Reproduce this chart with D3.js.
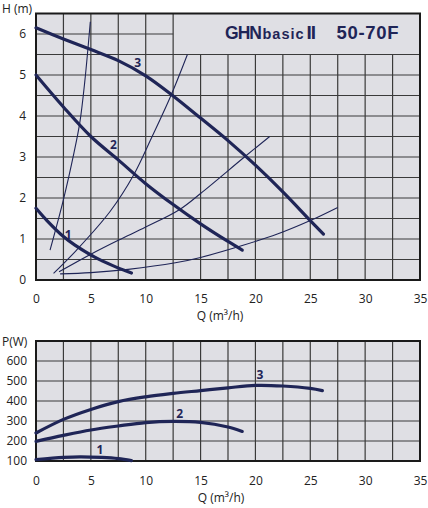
<!DOCTYPE html>
<html>
<head>
<meta charset="utf-8">
<script src="https://cdn.jsdelivr.net/npm/d3@7"></script>
<style>
  body { margin: 0; background: #fff; }
  text { font-family: "Open Sans", "DejaVu Sans", sans-serif; }
</style>
</head>
<body>
<div id="chart"></div>
<script>
// tick labels
var qTicks = [0, 5, 10, 15, 20, 25, 30, 35];
var hTicks = [0, 1, 2, 3, 4, 5, 6];
var pTicks = [100, 200, 300, 400, 500, 600];

// pump curves H(Q), speeds 1..3
var head1Q = [0, 1, 2.5, 3.55, 5.4, 7, 8.7];
var head1H = [1.75, 1.45, 1.06, 0.85, 0.55, 0.35, 0.17];
var head2Q = [0, 2.5, 5, 7.5, 10, 12.5, 15, 17.5, 18.8];
var head2H = [5.0, 4.22, 3.5, 2.93, 2.35, 1.84, 1.37, 0.94, 0.73];
var head3Q = [0, 2.5, 5, 7.5, 10, 12.5, 15, 17.5, 20, 22.5, 25, 26.2];
var head3H = [6.15, 5.88, 5.62, 5.35, 4.98, 4.49, 3.95, 3.4, 2.8, 2.15, 1.45, 1.12];

// system curves (thin)
var sysAQ = [1.28, 2.49, 3.46, 4.0, 4.45, 4.95];
var sysAH = [0.73, 1.95, 3.1, 3.85, 4.85, 6.3];
var sysBQ = [1.6, 3.7, 6.75, 8.9, 10.5, 12.3, 13.8];
var sysBH = [0.16, 0.73, 1.67, 2.56, 3.45, 4.5, 5.5];
var sysCQ = [2.1, 5, 7.5, 10, 13.1, 15, 19, 21.3];
var sysCH = [0.2, 0.63, 0.97, 1.29, 1.72, 2.11, 3.0, 3.5];
var sysDQ = [2.2, 5, 8.4, 12.7, 15, 18.8, 22, 25, 27.5];
var sysDH = [0.15, 0.18, 0.26, 0.42, 0.55, 0.84, 1.12, 1.45, 1.77];

// power curves P(Q)
var pow1Q = [0, 2.5, 4, 6, 7.5, 8.7];
var pow1P = [107, 118, 121, 118, 112, 102];
var pow2Q = [0, 2.5, 5, 7.5, 10, 12.5, 15, 17.5, 18.8];
var pow2P = [198, 228, 255, 275, 292, 298, 293, 270, 248];
var pow3Q = [0, 2.5, 5, 7.5, 10, 12.5, 15, 17.5, 20, 22.5, 25, 26.1];
var pow3P = [240, 308, 358, 397, 421, 438, 452, 466, 478, 475, 463, 452];

// curve number labels
var labelNames = ["1", "2", "3"];
var headLabelQ = [2.94, 7.05, 9.27];
var headLabelH = [1.11, 3.29, 5.29];
var powLabelQ = [5.83, 13.1, 20.4];
var powLabelP = [155, 335, 530];

var width = 428, height = 508;
var navy = "#1f2557";
var plotBg = "#dfdfe4";
var gridColor = "#3a3a3a";

var svg = d3.select("#chart")
    .append("svg")
    .attr("width", width)
    .attr("height", height);

var xScale = d3.scaleLinear().domain([0, 35]).range([36, 420]);
var yHead = d3.scaleLinear().domain([0, 6.5]).range([280, 13.5]);
var yPow = d3.scaleLinear().domain([100, 700]).range([461, 341]);

function zip(xs, ys) {
    return xs.map(function(x, i) { return [x, ys[i]]; });
}

// ---------- top chart ----------
svg.append("rect")
    .attr("x", xScale(0)).attr("y", yHead(6.5))
    .attr("width", xScale(35) - xScale(0))
    .attr("height", yHead(0) - yHead(6.5))
    .attr("fill", plotBg);

var gridTop = svg.append("g");
d3.range(2.5, 35, 2.5).forEach(function(q) {
    // the title box covers the top right corner
    var top = q > 12.5 ? 5.5 : 6.5;
    gridTop.append("line")
        .attr("x1", xScale(q)).attr("x2", xScale(q))
        .attr("y1", yHead(0)).attr("y2", yHead(top))
        .attr("stroke", gridColor).attr("stroke-width", 1.2);
});
d3.range(0.5, 6.5, 0.5).forEach(function(h) {
    var right = h > 5.5 ? 12.5 : 35;
    gridTop.append("line")
        .attr("x1", xScale(0)).attr("x2", xScale(right))
        .attr("y1", yHead(h)).attr("y2", yHead(h))
        .attr("stroke", gridColor).attr("stroke-width", 1.2);
});

svg.append("rect")
    .attr("x", xScale(0)).attr("y", yHead(6.5))
    .attr("width", xScale(35) - xScale(0))
    .attr("height", yHead(0) - yHead(6.5))
    .attr("fill", "none").attr("stroke", "#1a1a1a").attr("stroke-width", 2);

// title
var title = svg.append("text")
    .attr("y", 38.5)
    .attr("fill", navy)
    .style("font-family", "'Liberation Sans', Arial, sans-serif")
    .style("font-weight", "bold");
title.append("tspan").attr("x", 225).style("font-size", "17.5px")
    .attr("textLength", 37).text("GHN");
title.append("tspan").attr("x", 262.5).style("font-size", "14.5px")
    .attr("textLength", 41).text("basic");
title.append("tspan").attr("x", 306.5).style("font-size", "19px")
    .style("letter-spacing", "-1px").text("II");
title.append("tspan").attr("x", 336.5).style("font-size", "18.5px")
    .attr("textLength", 62).text("50-70F");

var curve = d3.curveCatmullRom.alpha(0.5);

var headLine = d3.line()
    .x(function(d) { return xScale(d[0]); })
    .y(function(d) { return yHead(d[1]); })
    .curve(curve);

[[sysAQ, sysAH], [sysBQ, sysBH], [sysCQ, sysCH], [sysDQ, sysDH]].forEach(function(s) {
    svg.append("path")
        .attr("d", headLine(zip(s[0], s[1])))
        .attr("fill", "none").attr("stroke", navy).attr("stroke-width", 1.1);
});

[[head1Q, head1H], [head2Q, head2H], [head3Q, head3H]].forEach(function(s) {
    svg.append("path")
        .attr("d", headLine(zip(s[0], s[1])))
        .attr("fill", "none").attr("stroke", navy)
        .attr("stroke-width", 3.2).attr("stroke-linecap", "round");
});

svg.selectAll(".headLabel")
    .data(labelNames)
    .enter()
    .append("text")
    .attr("class", "headLabel")
    .attr("x", function(d, i) { return xScale(headLabelQ[i]); })
    .attr("y", function(d, i) { return yHead(headLabelH[i]); })
    .attr("dy", "0.35em")
    .attr("text-anchor", "middle")
    .attr("fill", navy)
    .style("font-size", "12px").style("font-weight", "bold")
    .text(function(d) { return d; });

// axes
var xAxisTop = svg.append("g")
    .attr("transform", "translate(0," + yHead(0) + ")")
    .call(d3.axisBottom(xScale).tickValues(qTicks).tickSize(0).tickPadding(14));
var yAxisTop = svg.append("g")
    .attr("transform", "translate(" + xScale(0) + ",0)")
    .call(d3.axisLeft(yHead).tickValues(hTicks).tickSize(0).tickPadding(10)
        .tickFormat(d3.format("d")));

svg.append("text")
    .attr("x", 2).attr("y", 13)
    .attr("fill", "#222").style("font-size", "12px")
    .text("H (m)");
svg.append("text")
    .attr("x", 220).attr("y", 320)
    .attr("text-anchor", "middle")
    .attr("fill", "#222").style("font-size", "12px")
    .text("Q (m³/h)");

// ---------- bottom chart ----------
svg.append("rect")
    .attr("x", xScale(0)).attr("y", yPow(700))
    .attr("width", xScale(35) - xScale(0))
    .attr("height", yPow(100) - yPow(700))
    .attr("fill", plotBg);

var gridBot = svg.append("g");
d3.range(2.5, 35, 2.5).forEach(function(q) {
    gridBot.append("line")
        .attr("x1", xScale(q)).attr("x2", xScale(q))
        .attr("y1", yPow(100)).attr("y2", yPow(700))
        .attr("stroke", gridColor).attr("stroke-width", 1.2);
});
d3.range(200, 700, 100).forEach(function(p) {
    gridBot.append("line")
        .attr("x1", xScale(0)).attr("x2", xScale(35))
        .attr("y1", yPow(p)).attr("y2", yPow(p))
        .attr("stroke", gridColor).attr("stroke-width", 1.2);
});

svg.append("rect")
    .attr("x", xScale(0)).attr("y", yPow(700))
    .attr("width", xScale(35) - xScale(0))
    .attr("height", yPow(100) - yPow(700))
    .attr("fill", "none").attr("stroke", "#1a1a1a").attr("stroke-width", 2);

var powLine = d3.line()
    .x(function(d) { return xScale(d[0]); })
    .y(function(d) { return yPow(d[1]); })
    .curve(curve);

[[pow1Q, pow1P], [pow2Q, pow2P], [pow3Q, pow3P]].forEach(function(s) {
    svg.append("path")
        .attr("d", powLine(zip(s[0], s[1])))
        .attr("fill", "none").attr("stroke", navy)
        .attr("stroke-width", 3.2).attr("stroke-linecap", "round");
});

svg.selectAll(".powLabel")
    .data(labelNames)
    .enter()
    .append("text")
    .attr("class", "powLabel")
    .attr("x", function(d, i) { return xScale(powLabelQ[i]); })
    .attr("y", function(d, i) { return yPow(powLabelP[i]); })
    .attr("dy", "0.35em")
    .attr("text-anchor", "middle")
    .attr("fill", navy)
    .style("font-size", "12px").style("font-weight", "bold")
    .text(function(d) { return d; });

var xAxisBot = svg.append("g")
    .attr("transform", "translate(0," + yPow(100) + ")")
    .call(d3.axisBottom(xScale).tickValues(qTicks).tickSize(0).tickPadding(15));
var yAxisBot = svg.append("g")
    .attr("transform", "translate(" + xScale(0) + ",0)")
    .call(d3.axisLeft(yPow).tickValues(pTicks).tickSize(0).tickPadding(9));

svg.append("text")
    .attr("x", 2).attr("y", 346)
    .attr("fill", "#222").style("font-size", "12px")
    .text("P(W)");
svg.append("text")
    .attr("x", 221).attr("y", 502)
    .attr("text-anchor", "middle")
    .attr("fill", "#222").style("font-size", "12px")
    .text("Q (m³/h)");

// style axis text, drop the domain lines
svg.selectAll(".domain").remove();
svg.selectAll(".tick text")
    .attr("fill", "#222")
    .style("font-size", "12px")
    .style("font-family", "'Open Sans', sans-serif");
</script>
</body>
</html>
